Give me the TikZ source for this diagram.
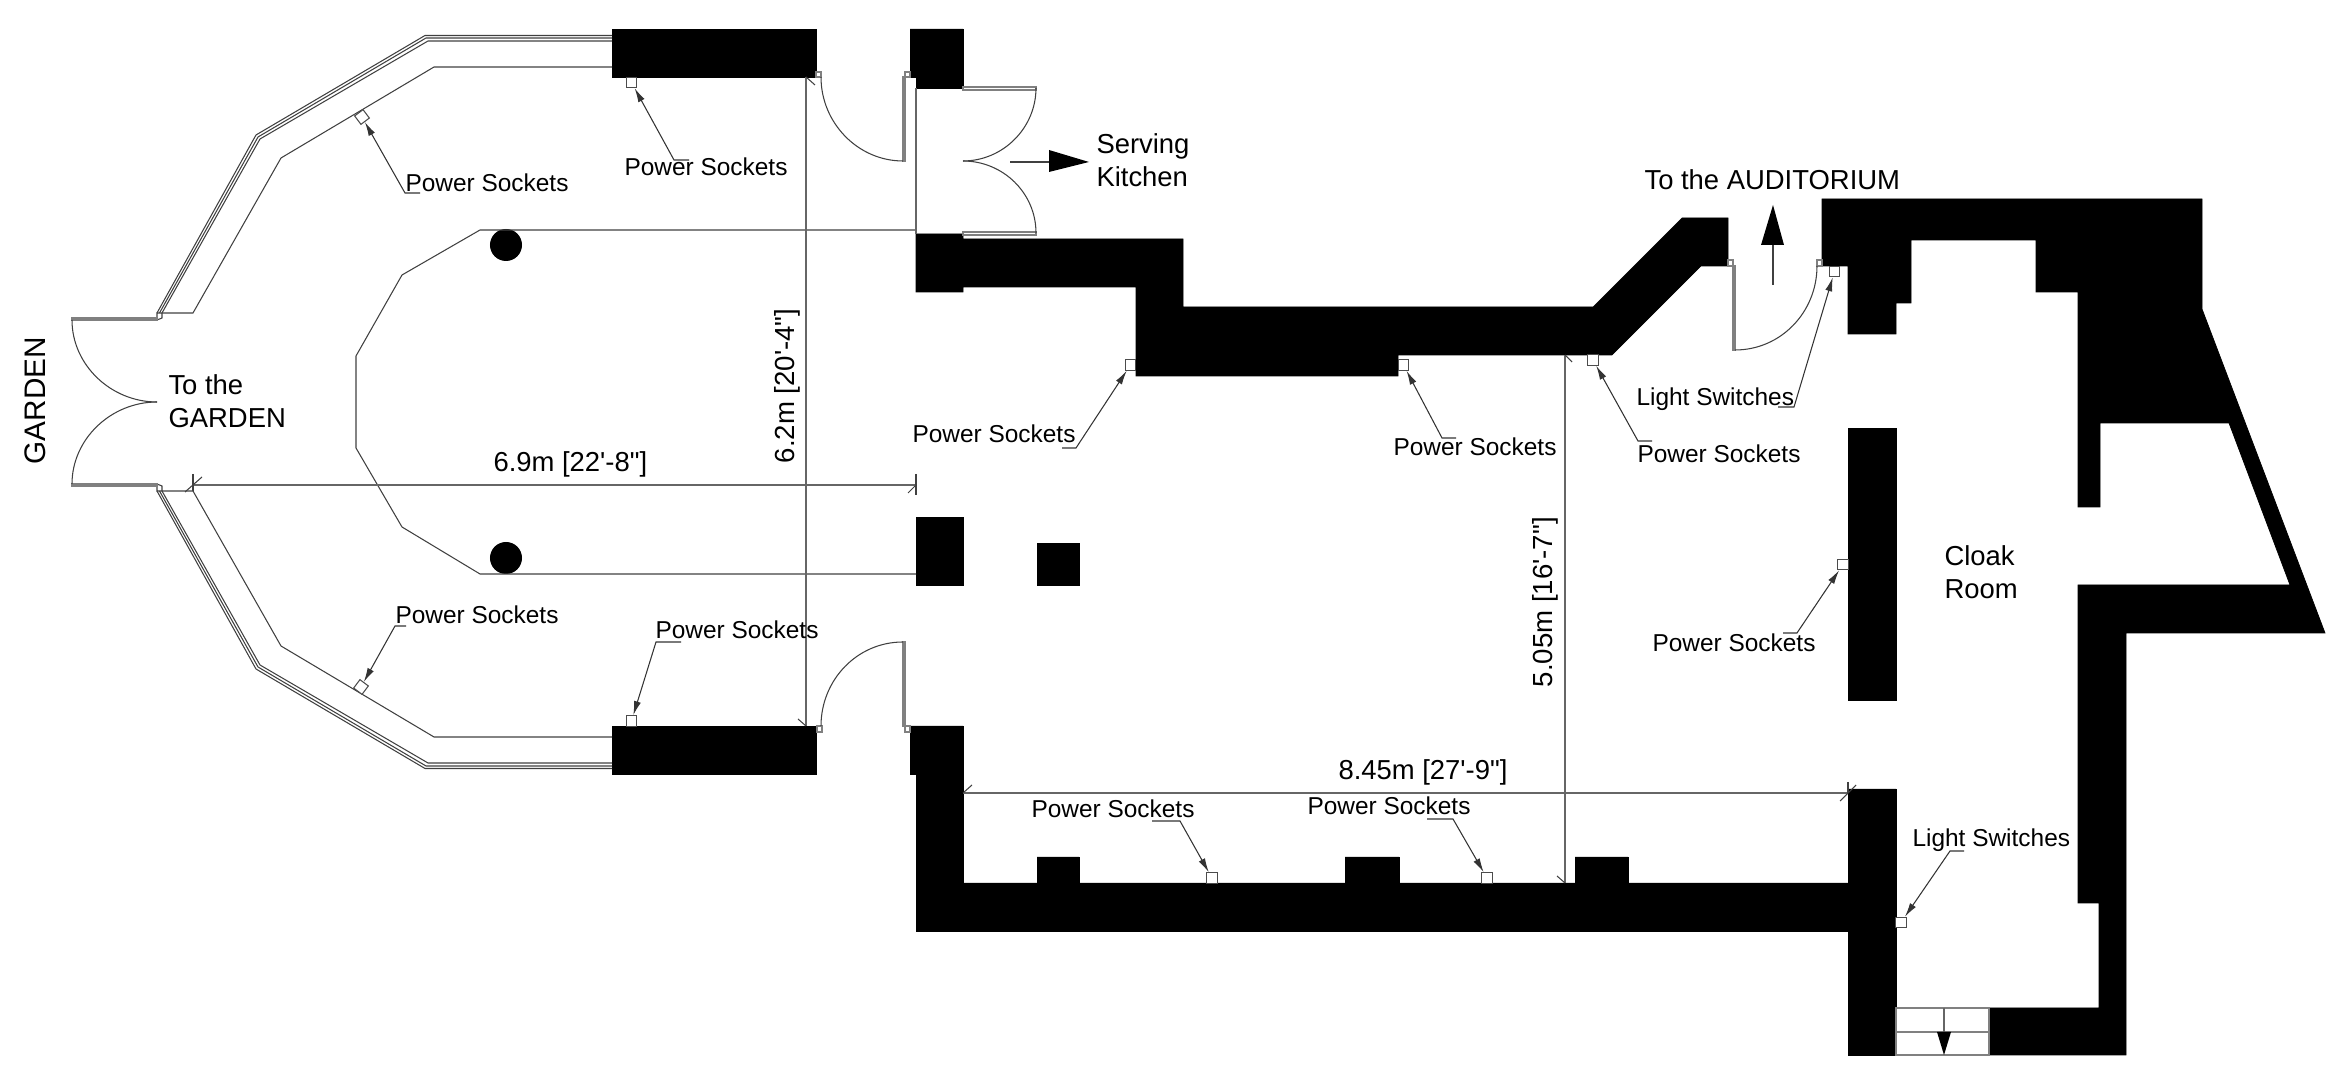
\documentclass[tikz,border=0pt]{standalone}
\usepackage{fontspec}
\setmainfont{Liberation Sans}[Ligatures=TeXOff]
\usetikzlibrary{arrows.meta}

\tikzset{
    wall/.style={fill=black, draw=black, line width=0.2pt},
    plan/.style={draw=black!75, line width=0.3pt},
    panel/.style={draw=black!50, line width=0.3pt},
    dimline/.style={draw=black!60, line width=0.45pt},
    socket/.style={rectangle, draw=black!70, fill=white, line width=0.3pt, inner sep=0pt, minimum size=0.105cm},
    leader/.style={draw=black!80, line width=0.3pt, -{Latex[length=4pt,width=2pt]}},
    smalltext/.style={anchor=base west, inner sep=0pt, xshift=-0.012cm, font=\fontsize{6.95}{8}\selectfont},
    bigtext/.style={anchor=base west, inner sep=0pt, xshift=-0.012cm, yshift=-0.012cm, font=\fontsize{7.8}{9}\selectfont},
    dimtext/.style={anchor=base west, inner sep=0pt, rotate=90, font=\fontsize{7.85}{9}\selectfont},
}

\begin{document}
\begin{tikzpicture}[x=0.01cm, y=-0.01cm]
    \useasboundingbox (0,0) rectangle (2335,1080);

    % walls
    \fill[wall] (612,29) rectangle (816,77);
    \fill[wall] (612,726) rectangle (816,774);
    \fill[wall] (910,29) -- (963,29) -- (963,88) -- (916,88) -- (916,77) -- (910,77) -- cycle;
    \fill[wall] (916,234) -- (963,234) -- (963,239) -- (1183,239) -- (1183,307) -- (1593,307) -- (1682,218)
        -- (1728,218) -- (1728,266) -- (1701,266) -- (1612,355) -- (1398,355) -- (1398,376) -- (1136,376)
        -- (1136,287) -- (963,287) -- (963,292) -- (916,292) -- cycle;
    \fill[wall] (916,517) rectangle (963,585);
    \fill[wall] (1037,543) rectangle (1079,585);
    \fill[wall] (910,726) -- (963,726) -- (963,883) -- (1037,883) -- (1037,857) -- (1079,857) -- (1079,883)
        -- (1345,883) -- (1345,857) -- (1399,857) -- (1399,883) -- (1575,883) -- (1575,857) -- (1628,857)
        -- (1628,883) -- (1848,883) -- (1848,789) -- (1896,789) -- (1896,1055) -- (1848,1055) -- (1848,931)
        -- (916,931) -- (916,774) -- (910,774) -- cycle;
    \fill[wall] (1848,428) rectangle (1896,700);
    \fill[wall] (1822,199) -- (2202,199) -- (2202,309) -- (2325,633) -- (2126,633) -- (2126,1055) -- (1989,1055)
        -- (1989,1008) -- (2099,1008) -- (2099,903) -- (2078,903) -- (2078,585) -- (2290,585) -- (2229,423)
        -- (2100,423) -- (2100,507) -- (2078,507) -- (2078,292) -- (2036,292) -- (2036,240) -- (1911,240)
        -- (1911,303) -- (1896,303) -- (1896,334) -- (1848,334) -- (1848,266) -- (1822,266) -- cycle;

    % columns
    \fill (506,245) circle (0.16cm);
    \fill (506,558) circle (0.16cm);

    % outer glazing
    \draw[plan] (612,35.5) -- (425,35.5) -- (256,135) -- (157,313);
    \draw[plan] (612,38) -- (426,38) -- (258,137) -- (159.5,313);
    \draw[plan] (612,41) -- (428,41) -- (260,139) -- (162,313);
    \draw[plan] (612,768.5) -- (425,768.5) -- (256,669) -- (157,491);
    \draw[plan] (612,766) -- (426,766) -- (258,667) -- (159.5,491);
    \draw[plan] (612,763) -- (428,763) -- (260,665) -- (162,491);

    % inner line and room outline
    \draw[plan] (157,320) -- (157,313) -- (162,313) -- (162,318) -- (157,320);
    \draw[plan] (157,484) -- (157,491) -- (162,491) -- (162,486) -- (157,484);
    \draw[plan] (162,313) -- (193,313) -- (281,158) -- (434,67) -- (612,67);
    \draw[plan] (162,491) -- (193,491) -- (281,646) -- (434,737) -- (612,737);
    \draw[plan] (916,230) -- (480,230) -- (402,275) -- (356,356) -- (356,448) -- (402,527) -- (480,574) -- (916,574);
    \draw[dimline] (916,88) -- (916,234);

    % garden doors
    \draw[panel] (72,318) rectangle (157,320);
    \draw[panel] (72,484) rectangle (157,486);
    \draw[plan] (72,320) .. controls (72,365) and (111,402) .. (157,402);
    \draw[plan] (72,484) .. controls (72,439) and (111,402) .. (157,402);

    % upper door
    \draw[panel] (816,72) rectangle (821,77);
    \draw[panel] (905,72) rectangle (910,77);
    \draw[panel] (903,77) rectangle (905,161);
    \draw[plan] (821,77) .. controls (821,123) and (858,161) .. (903,161);

    % lower door
    \draw[panel] (817,726) rectangle (822,732);
    \draw[panel] (905,726) rectangle (910,732);
    \draw[panel] (903,642) rectangle (905,726);
    \draw[plan] (821,726) .. controls (821,680) and (857,642) .. (903,642);

    % kitchen doors
    \draw[panel] (963,87) rectangle (1036,90);
    \draw[panel] (963,232) rectangle (1036,235);
    \draw[plan] (1036,88) .. controls (1036,128) and (1003,161) .. (963,161);
    \draw[plan] (1036,233) .. controls (1036,193) and (1003,161) .. (963,161);
    \draw[plan] (1010,162) -- (1049,162);
    \fill (1049,150) -- (1089,162) -- (1049,172) -- cycle;

    % auditorium door
    \draw[panel] (1728,260) rectangle (1733,266);
    \draw[panel] (1817,260) rectangle (1822,266);
    \draw[panel] (1733,266) rectangle (1735,350);
    \draw[plan] (1735,350) .. controls (1781,350) and (1817,312) .. (1817,266);
    \draw[plan] (1773,245) -- (1773,285);
    \fill (1773,205) -- (1784,245) -- (1761,245) -- cycle;

    % steps at the cloak room
    \draw[panel] (1896,1008) rectangle (1989,1055);
    \draw[panel] (1896,1032) -- (1989,1032);
    \draw[dimline] (1944,1008) -- (1944,1032);
    \fill (1937,1032) -- (1951,1032) -- (1944,1055) -- cycle;

    % dimensions
    \draw[dimline] (193,485) -- (916,485);
    \draw[plan] (193,474) -- (193,491);
    \draw[plan] (185,492) -- (202,477);
    \draw[plan] (916,474) -- (916,495);
    \draw[plan] (908,493) -- (916,485);
    \draw[dimline] (806,77) -- (806,726);
    \draw[plan] (806,77) -- (815,85);
    \draw[plan] (806,726) -- (798,719);
    \draw[dimline] (963,793) -- (1848,793);
    \draw[plan] (963,793) -- (972,785);
    \draw[plan] (1840,801) -- (1856,785);
    \draw[plan] (1848,782) -- (1848,793);
    \draw[dimline] (1565,355) -- (1565,883);
    \draw[plan] (1565,355) -- (1572,362);
    \draw[plan] (1565,883) -- (1557,876);

    % sockets and switches
    \node at (362,117) [socket, rotate=37] (s1) {};
    \node at (631.5,82.5) [socket] (s2) {};
    \node at (1130.5,365) [socket] (s3) {};
    \node at (1403.5,365) [socket] (s4) {};
    \node at (1593,360) [socket] (s5) {};
    \node at (1843,564.5) [socket] (s6) {};
    \node at (1212,878) [socket] (s7) {};
    \node at (1487,878) [socket] (s8) {};
    \node at (361,687) [socket, rotate=-37] (s9) {};
    \node at (631.5,721) [socket] (s10) {};
    \node at (1834.5,271.5) [socket] (ls1) {};
    \node at (1901,922.5) [socket] (ls2) {};

    \coordinate (b1) at (405,193);
    \coordinate (b2) at (674,160);
    \coordinate (b3) at (1076,448);
    \coordinate (b4) at (1442,438);
    \coordinate (b5) at (1638,441);
    \coordinate (b6) at (1797,633);
    \coordinate (b7) at (1180,821);
    \coordinate (b8) at (1453,819);
    \coordinate (b9) at (395,626);
    \coordinate (b10) at (656,642);
    \coordinate (c1) at (1794,407);
    \coordinate (c2) at (1950,851);

    \draw[leader] (b1) ++(15,0) -- (b1) -- (s1);
    \draw[leader] (b2) ++(15,0) -- (b2) -- (s2);
    \draw[leader] (b3) ++(-14,0) -- (b3) -- (s3);
    \draw[leader] (b4) ++(14,0) -- (b4) -- (s4);
    \draw[leader] (b5) ++(14,0) -- (b5) -- (s5);
    \draw[leader] (b6) ++(-14,0) -- (b6) -- (s6);
    \draw[leader] (b7) ++(-28,0) -- (b7) -- (s7);
    \draw[leader] (b8) ++(-26,0) -- (b8) -- (s8);
    \draw[leader] (b9) ++(11,0) -- (b9) -- (s9);
    \draw[leader] (b10) ++(25,0) -- (b10) -- (s10);
    \draw[leader] (c1) ++(-16,0) -- (c1) -- (ls1);
    \draw[leader] (c2) ++(14,0) -- (c2) -- (ls2);

    % labels
    \node at (406,191.5) [smalltext] (t1) {Power Sockets};
    \node at (625,176) [smalltext] (t2) {Power Sockets};
    \node at (913,443) [smalltext] (t3) {Power Sockets};
    \node at (1394,455.5) [smalltext] (t4) {Power Sockets};
    \node at (1638,463) [smalltext] (t5) {Power Sockets};
    \node at (1653,651.5) [smalltext] (t6) {Power Sockets};
    \node at (1032,817.5) [smalltext] (t7) {Power Sockets};
    \node at (1308,815) [smalltext] (t8) {Power Sockets};
    \node at (396,623.5) [smalltext] (t9) {Power Sockets};
    \node at (656,638.5) [smalltext] (t10) {Power Sockets};
    \node at (1637,405.5) [smalltext] (u1) {Light Switches};
    \node at (1913,847) [smalltext] (u2) {Light Switches};

    \node at (1097,152) [bigtext] (serving) {Serving};
    \node at (1097,185) [bigtext] (kitchen) {Kitchen};
    \node at (169,393) [bigtext] (tothe) {To the};
    \node at (169,426) [bigtext] (togarden) {GARDEN};
    \node at (1945,564) [bigtext] (cloak) {Cloak};
    \node at (1945,597) [bigtext] (room) {Room};
    \node at (1645,188) [bigtext] (audit) {To the AUDITORIUM};
    \node at (494,470) [bigtext] (dimA) {6.9m [22'-8"]};
    \node at (1339,778) [bigtext] (dimB) {8.45m [27'-9"]};
    \node at (794,464) [dimtext] (dimC) {6.2m [20'-4"]};
    \node at (1552,688) [dimtext] (dimD) {5.05m [16'-7"]};
    \node at (45,465) [anchor=base west, inner sep=0pt, rotate=90, font=\fontsize{8.45}{10}\selectfont] (garden) {GARDEN};
\end{tikzpicture}
\end{document}
